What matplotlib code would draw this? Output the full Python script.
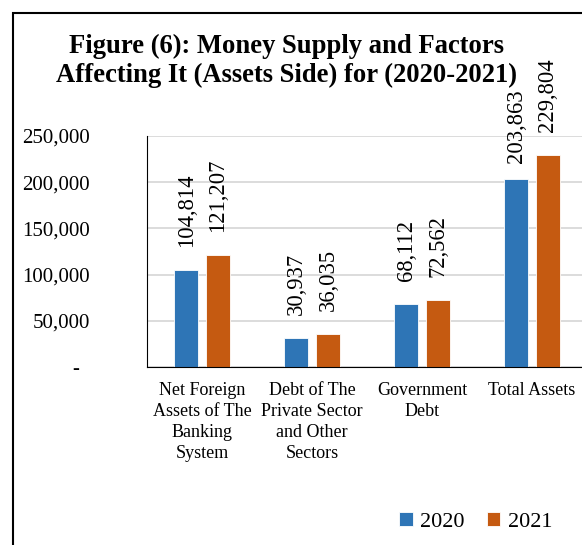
import matplotlib.pyplot as plt
from matplotlib.patches import Rectangle
import numpy as np

plt.rcParams['font.family'] = ['Liberation Serif', 'DejaVu Serif']

# Daten
categories = ["Net Foreign\nAssets of The\nBanking\nSystem",
              "Debt of The\nPrivate Sector\nand Other\nSectors",
              "Government\nDebt",
              "Total Assets"]
values_2020 = [104814, 30937, 68112, 203863]
values_2021 = [121207, 36035, 72562, 229804]
years = ["2020", "2021"]

blue = "#2E75B6"
orange = "#C55A11"

fig = plt.figure(figsize=(5.82, 5.45), dpi=100)
ax = fig.add_axes([147/582, 1-367/545, 440/582, 231/545])

x = np.arange(len(categories))
w = 0.222
off = 0.144
b1 = ax.bar(x - off, values_2020, w, color=blue, edgecolor="white", linewidth=0.6, label=years[0])
b2 = ax.bar(x + off, values_2021, w, color=orange, edgecolor="white", linewidth=0.6, label=years[1])

# Werte über den Balken
for bars in (b1, b2):
    for rect in bars:
        v = rect.get_height()
        dy = 11 if v == 203863 else 16.5
        ax.annotate("{:,}".format(v), (rect.get_x() + rect.get_width()/2, v),
                    xytext=(0, dy), textcoords="offset points",
                    rotation=90, ha="center", va="bottom", fontsize=16.3)

ax.set_xlim(-0.5, 3.5)
ax.set_ylim(0, 250000)
ax.set_yticks(range(0, 250001, 50000))
ax.set_yticklabels(["-  " if v == 0 else "{:,}".format(v) for v in range(0, 250001, 50000)], fontsize=15)
ax.set_xticks(x)
ax.set_xticklabels(categories, fontsize=13, linespacing=1.3)
ax.tick_params(axis="y", length=0, pad=41)
ax.tick_params(axis="x", length=0, pad=11)

ax.grid(axis="y", color="#D9D9D9", linewidth=1.3)
ax.set_axisbelow(True)
for s in ["top", "right"]:
    ax.spines[s].set_visible(False)
ax.spines["left"].set_color("black")
ax.spines["bottom"].set_color("black")

# Titel
fig.text(0.493, 1-61/545, "Figure (6): Money Supply and Factors\nAffecting It (Assets Side) for (2020-2021)",
         ha="center", va="center", fontsize=19.2, fontweight="bold", linespacing=1.24)

# Legende
fig.legend(handles=[b1, b2], loc="center", bbox_to_anchor=(476/582, 1-522/545), ncol=2,
           frameon=False, fontsize=16, handlelength=0.6, handleheight=0.6,
           columnspacing=1.0, handletextpad=0.35)

# Rahmen
fig.add_artist(Rectangle((13/582, -0.05), 1.1, 1-13/545+0.05, transform=fig.transFigure,
                         fill=False, edgecolor="black", linewidth=1.5))

fig.savefig("out.png", dpi=100)
